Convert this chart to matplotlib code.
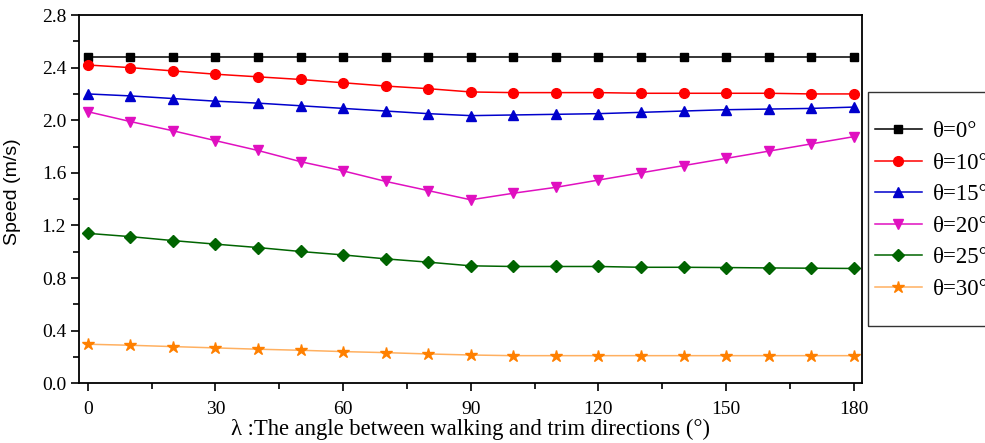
import numpy as np
import matplotlib
matplotlib.use("Agg")
import matplotlib.pyplot as plt
from matplotlib.ticker import MultipleLocator, FormatStrFormatter
from matplotlib.patches import Rectangle

lam = [0, 10, 20, 30, 40, 50, 60, 70, 80, 90, 100, 110, 120, 130, 140, 150, 160, 170, 180]

speed_0 = [2.48] * 19
speed_10 = [2.42, 2.40, 2.375, 2.35, 2.33, 2.31, 2.285, 2.26, 2.24, 2.215,
            2.21, 2.21, 2.21, 2.205, 2.205, 2.205, 2.205, 2.20, 2.20]
speed_15 = [2.20, 2.185, 2.165, 2.145, 2.13, 2.11, 2.09, 2.07, 2.05, 2.035,
            2.04, 2.045, 2.05, 2.06, 2.07, 2.08, 2.085, 2.09, 2.10]
speed_20 = [2.065, 1.99, 1.92, 1.845, 1.77, 1.685, 1.615, 1.535, 1.465, 1.395,
            1.445, 1.49, 1.545, 1.60, 1.655, 1.71, 1.765, 1.82, 1.875]
speed_25 = [1.14, 1.115, 1.085, 1.058, 1.032, 1.002, 0.976, 0.946, 0.921, 0.893,
            0.888, 0.888, 0.888, 0.882, 0.882, 0.880, 0.877, 0.875, 0.873]
speed_30 = [0.297, 0.289, 0.279, 0.269, 0.259, 0.251, 0.241, 0.233, 0.223, 0.215,
            0.21, 0.21, 0.21, 0.21, 0.21, 0.21, 0.21, 0.21, 0.21]

labels = ["θ=0°", "θ=10°", "θ=15°", "θ=20°", "θ=25°", "θ=30°"]

fig = plt.figure(figsize=(9.85, 4.43), dpi=100)
ax = fig.add_axes([0.0805, 0.1348, 0.7949, 0.8313])

styles = [
    (speed_0, "black", "black", "s", 6),
    (speed_10, "#ff0000", "#ff0000", "o", 7),
    (speed_15, "#0000cc", "#0000cc", "^", 7.5),
    (speed_20, "#e010c0", "#e010c0", "v", 7.5),
    (speed_25, "#006400", "#006400", "D", 6),
    (speed_30, "#ffb060", "#ff8000", "*", 9),
]
for (vals, lc, mc, mk, ms), lab in zip(styles, labels):
    ax.plot(lam, vals, color=lc, lw=1.1, marker=mk, ms=ms,
            markerfacecolor=mc, markeredgecolor=mc, label=lab, clip_on=False)

ax.set_xlim(-2, 182)
ax.set_ylim(0, 2.8)
ax.xaxis.set_major_locator(MultipleLocator(30))
ax.xaxis.set_minor_locator(MultipleLocator(15))
ax.yaxis.set_major_locator(MultipleLocator(0.4))
ax.yaxis.set_minor_locator(MultipleLocator(0.2))
ax.yaxis.set_major_formatter(FormatStrFormatter("%.1f"))
ax.tick_params(which="both", direction="out", top=False, right=False, width=1.2,
               labelsize=14)
ax.tick_params(which="major", length=6)
ax.tick_params(which="minor", length=4)
ax.tick_params(axis="x", which="major", pad=7)
for t in ax.get_xticklabels() + ax.get_yticklabels():
    t.set_fontfamily("Liberation Serif")
for s in ax.spines.values():
    s.set_linewidth(1.3)

ax.set_xlabel("λ :The angle between walking and trim directions (°)",
              fontfamily="Liberation Serif", fontsize=16.3, labelpad=0)
ax.set_ylabel("Speed (m/s)", fontfamily="Liberation Sans", fontsize=14)
ax.yaxis.set_label_coords(-0.0745, 0.519)

# legend box runs off the right edge of the figure, as in the original
fig.patches.append(Rectangle((868 / 985, 1 - 326 / 443), 0.2, (326 - 92) / 443,
                             transform=fig.transFigure, fill=False,
                             edgecolor="#333333", lw=1.0))
fig.legend(loc="upper left", bbox_to_anchor=(875 / 985, 1 - 121 / 443),
           bbox_transform=fig.transFigure, frameon=False, borderaxespad=0,
           borderpad=0, prop={"family": "Liberation Serif", "size": 16.5},
           handlelength=2.05, handletextpad=0.48, labelspacing=0.46)

fig.savefig("out.png", dpi=100)
